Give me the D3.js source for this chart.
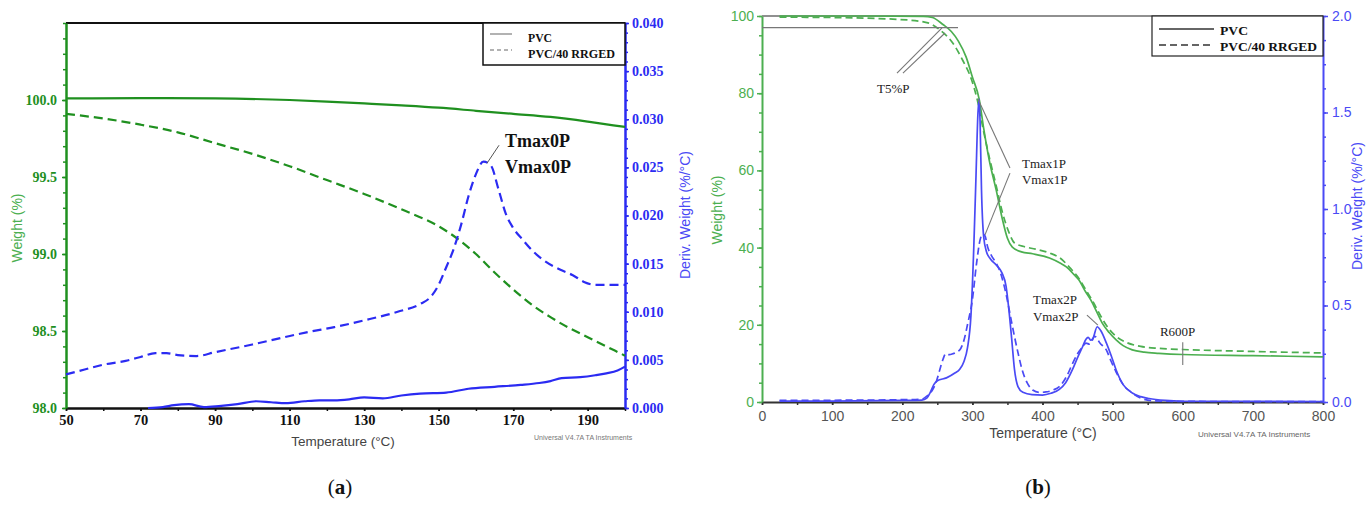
<!DOCTYPE html>
<html lang="en">
<head>
<meta charset="UTF-8">
<style>
  body { margin: 0; background: #fff; }
  text { font-family: "Liberation Sans", Arial, sans-serif; }
  .serif { font-family: "Liberation Serif", "Times New Roman", serif; }
</style>
<script src="https://d3js.org/d3.v7.min.js"></script>
</head>
<body>
<svg id="chart" width="1367" height="509"></svg>
<script>
// ---------- panel (a) : 50-200 °C detail ----------
const aXTicks = [50, 70, 90, 110, 130, 150, 170, 190];
const aWeightTicks = [98.0, 98.5, 99.0, 99.5, 100.0];
const aDerivTicks = [0, 0.005, 0.01, 0.015, 0.02, 0.025, 0.03, 0.035, 0.04];

// [temperature °C, weight %]
const aPvcWeight = [[50,100.01],[70,100.012],[90,100.01],[110,100.0],[120,99.99],[130,99.978],
  [140,99.965],[150,99.95],[160,99.93],[170,99.91],[180,99.89],[190,99.86],[200,99.825]];
const aRrgWeight = [[50,99.91],[60,99.88],[70,99.84],[80,99.79],[90,99.72],[100,99.65],[110,99.57],
  [120,99.48],[130,99.39],[140,99.29],[150,99.18],[155,99.1],[160,99.0],[165,98.88],[170,98.77],
  [175,98.67],[180,98.59],[185,98.52],[190,98.46],[195,98.4],[200,98.34]];
// [temperature °C, deriv weight %/°C]
const aPvcDeriv = [[72,0],[76,0.0001],[79,0.0003],[83,0.0004],[87,0.0001],[91,0.0002],[96,0.0004],
  [101,0.0007],[105,0.0006],[109,0.0005],[114,0.0007],[118,0.0008],[122,0.0008],[126,0.0009],
  [130,0.0011],[135,0.001],[140,0.0013],[145,0.0015],[152,0.0016],[158,0.002],[165,0.0022],
  [172,0.0024],[177,0.0026],[180,0.0028],[183,0.0031],[188,0.0032],[192,0.0034],[195,0.0036],
  [198,0.0039],[200,0.0043]];
const aRrgDeriv = [[50,0.0035],[55,0.004],[60,0.0045],[66,0.0049],[70,0.0053],[74,0.0057],[77,0.0057],
  [80,0.0055],[85,0.0054],[90,0.0058],[100,0.0066],[108,0.0073],[115,0.0079],[122,0.0084],[130,0.0091],
  [139,0.01],[145,0.0108],[148,0.0116],[150,0.0128],[152,0.0146],[154,0.0165],[156,0.019],
  [158,0.022],[160,0.0243],[162,0.0256],[164,0.0252],[166,0.0228],[168,0.0202],[170,0.0187],
  [172.5,0.0175],[175,0.0164],[178,0.0154],[183,0.0143],[186,0.0138],[189,0.0131],[192,0.0128],[200,0.0128]];

// ---------- panel (b) : full run 0-800 °C ----------
const bXTicks = [0, 100, 200, 300, 400, 500, 600, 700, 800];
const bWeightTicks = [0, 20, 40, 60, 80, 100];
const bDerivTicks = [0, 0.5, 1.0, 1.5, 2.0];

const bPvcWeight = [[25,100],[150,100],[230,99.9],[243,99.6],[258,97.8],[270,96],[280,93.5],[291,89.4],
  [300,84.2],[310,78.2],[316,71],[324,62.7],[334,54.9],[343,47.2],[350,42.4],[357,40.1],[370,38.9],
  [386,38.4],[410,37.3],[425,36],[434,35],[445,33],[452,31.6],[460,29],[469,26.4],[477,23.5],
  [485,20.5],[495,18],[505,16.1],[515,14.6],[528,13.5],[545,12.9],[566,12.6],[600,12.3],[700,12.0],[800,11.7]];
const bRrgWeight = [[25,99.7],[100,99.6],[196,99.1],[235,98.3],[253,96.5],[272,93],[286,88.6],[299,83.4],
  [307,78.3],[315,71],[324,63.5],[334,56],[343,49],[352,44],[360,41.2],[375,40.2],[390,39.6],
  [410,38.6],[425,37.3],[440,34.6],[452,32],[462,29],[472,26],[482,22.6],[492,19.6],[505,17],
  [520,15.4],[540,14.4],[566,13.9],[600,13.6],[700,13.1],[800,12.7]];
const bPvcDeriv = [[25,0.005],[100,0.005],[200,0.008],[228,0.01],[235,0.02],[240,0.05],[245,0.09],
  [250,0.11],[263,0.125],[275,0.15],[282,0.17],[288,0.21],[293,0.28],[298,0.45],[302,0.8],[305,1.15],
  [308,1.5],[309.5,1.57],[311,1.45],[313,1.1],[316,0.86],[320,0.78],[326,0.74],[334,0.71],[342,0.67],
  [348,0.6],[352,0.48],[356,0.33],[360,0.17],[365,0.08],[372,0.05],[385,0.038],[400,0.036],[412,0.045],
  [424,0.065],[433,0.1],[443,0.17],[450,0.23],[457,0.285],[462,0.325],[465,0.335],[469,0.32],[472,0.33],
  [478,0.39],[483,0.37],[491,0.306],[498,0.24],[505,0.166],[515,0.09],[528,0.047],[540,0.028],
  [552,0.018],[575,0.008],[600,0.004],[800,0.002]];
const bRrgDeriv = [[25,0.008],[100,0.009],[200,0.012],[228,0.015],[235,0.03],[243,0.062],[248,0.1],
  [253,0.16],[258,0.22],[262,0.25],[267,0.245],[272,0.25],[282,0.27],[288,0.32],[293,0.4],[300,0.53],
  [306,0.72],[311,0.84],[315,0.87],[318,0.86],[322,0.8],[327,0.76],[334,0.72],[340,0.67],[348,0.56],
  [354,0.45],[360,0.34],[366,0.24],[371,0.166],[378,0.1],[386,0.062],[395,0.05],[405,0.052],[415,0.062],
  [424,0.08],[434,0.13],[443,0.2],[450,0.25],[457,0.285],[462,0.305],[467,0.3],[471,0.32],[474,0.34],
  [478,0.33],[481,0.31],[491,0.27],[498,0.21],[505,0.155],[515,0.09],[528,0.047],[540,0.02],
  [560,0.006],[600,0.003],[800,0.002]];

const legendNames = ["PVC", "PVC/40 RRGED"];

const svg = d3.select("#chart");

function drawLine(g, data, x, y, color, width, dash) {
  g.append("path")
    .datum(data)
    .attr("fill", "none")
    .attr("stroke", color)
    .attr("stroke-width", width)
    .attr("stroke-dasharray", dash || null)
    .attr("d", d3.line().x(d => x(d[0])).y(d => y(d[1])).curve(d3.curveMonotoneX));
}

function styleAxis(sel, color, domainW, font, size, weight, textColor) {
  sel.select(".domain").attr("stroke", color).attr("stroke-width", domainW);
  sel.selectAll(".tick line").attr("stroke", color).attr("stroke-width", 1.5);
  sel.selectAll(".tick text")
    .attr("fill", textColor || color)
    .style("font-family", font)
    .style("font-size", size + "px")
    .style("font-weight", weight);
}

// ================= panel (a) =================
{
  const green = "#1f901f", blue = "#2b2bf2";
  const x = d3.scaleLinear().domain([50, 200]).range([66, 625]);
  const y = d3.scaleLinear().domain([98, 100.5]).range([408, 23]);
  const y2 = d3.scaleLinear().domain([0, 0.04]).range([408, 23]);
  const serif = '"Liberation Serif", serif';
  const g = svg.append("g");

  // top frame
  g.append("line").attr("x1", x(50)).attr("x2", x(200)).attr("y1", y(100.5)).attr("y2", y(100.5))
    .attr("stroke", "#111").attr("stroke-width", 2);

  // minor ticks
  g.append("g").attr("transform", `translate(${x(50)},0)`)
    .call(d3.axisLeft(y).tickValues(d3.range(98, 100.51, 0.1)).tickSize(3).tickFormat(""))
    .call(s => { s.select(".domain").remove(); s.selectAll("line").attr("stroke", green).attr("stroke-width", 1.5); });
  g.append("g").attr("transform", `translate(${x(200)},0)`)
    .call(d3.axisRight(y2).tickValues(d3.range(0, 0.0401, 0.001)).tickSize(3).tickFormat(""))
    .call(s => { s.select(".domain").remove(); s.selectAll("line").attr("stroke", blue).attr("stroke-width", 1.5); });
  g.append("g").attr("transform", `translate(0,${y(98)})`)
    .call(d3.axisBottom(x).tickValues(d3.range(50, 201, 10)).tickSize(3).tickFormat(""))
    .call(s => { s.select(".domain").remove(); s.selectAll("line").attr("stroke", "#111").attr("stroke-width", 1.5); });

  // main axes
  g.append("g").attr("transform", `translate(0,${y(98)})`)
    .call(d3.axisBottom(x).tickValues(aXTicks).tickSize(3).tickPadding(4).tickSizeOuter(0))
    .call(s => styleAxis(s, "#111", 2.5, serif, 14.5, "bold"));
  g.append("g").attr("transform", `translate(${x(50)},0)`)
    .call(d3.axisLeft(y).tickValues(aWeightTicks).tickSize(4).tickPadding(5).tickSizeOuter(0).tickFormat(d3.format(".1f")))
    .call(s => styleAxis(s, green, 2.5, serif, 14, "bold"));
  g.append("g").attr("transform", `translate(${x(200)},0)`)
    .call(d3.axisRight(y2).tickValues(aDerivTicks).tickSize(4).tickPadding(3).tickSizeOuter(0).tickFormat(d3.format(".3f")))
    .call(s => styleAxis(s, blue, 2.5, serif, 14, "bold"));

  // curves
  drawLine(g, aPvcWeight, x, y, green, 2.2);
  drawLine(g, aRrgWeight, x, y, green, 2.2, "9,5");
  drawLine(g, aPvcDeriv, x, y2, blue, 2.2);
  drawLine(g, aRrgDeriv, x, y2, blue, 2.2, "9,5");

  // axis titles
  g.append("text").attr("transform", `translate(22,228) rotate(-90)`).attr("text-anchor", "middle")
    .attr("fill", "#4caf50").style("font-size", "14px").text("Weight (%)");
  g.append("text").attr("transform", `translate(690,215) rotate(-90)`).attr("text-anchor", "middle")
    .attr("fill", "#4a4af5").style("font-size", "14px").text("Deriv. Weight (%/°C)");
  g.append("text").attr("x", 343).attr("y", 446).attr("text-anchor", "middle")
    .attr("fill", "#444").style("font-size", "13.5px").text("Temperature (°C)");
  g.append("text").attr("x", 534).attr("y", 440).attr("fill", "#777").style("font-size", "7px")
    .text("Universal V4.7A TA Instruments");

  // legend
  g.append("rect").attr("x", 483).attr("y", 23).attr("width", 142).attr("height", 42)
    .attr("fill", "#fff").attr("stroke", "#111").attr("stroke-width", 1.5);
  [[34, null], [50, "4,3"]].forEach(([ly, dash], i) => {
    g.append("line").attr("x1", 490).attr("x2", 512).attr("y1", ly).attr("y2", ly)
      .attr("stroke", "#999").attr("stroke-width", 1.5).attr("stroke-dasharray", dash);
    g.append("text").attr("class", "serif").attr("x", 528).attr("y", ly + 7.5)
      .style("font-size", "13px").style("font-weight", "bold").attr("fill", "#111")
      .attr("textLength", i ? 87 : 24).attr("lengthAdjust", "spacingAndGlyphs").text(legendNames[i]);
  });

  // annotation
  g.append("line").attr("x1", x(163)).attr("y1", y2(0.02545)).attr("x2", x(166.2)).attr("y2", y2(0.0273))
    .attr("stroke", "#555").attr("stroke-width", 1);
  ["Tmax0P", "Vmax0P"].forEach((t, i) => {
    g.append("text").attr("class", "serif").attr("x", x(167.8)).attr("y", y2(i ? 0.0244 : 0.0271))
      .style("font-size", "18px").style("font-weight", "bold").attr("fill", "#111").text(t);
  });

  g.append("text").attr("class", "serif").attr("x", 340).attr("y", 494).attr("text-anchor", "middle")
    .style("font-size", "21px").attr("fill", "#111")
    .html('(<tspan font-weight="bold">a</tspan>)');
}

// ================= panel (b) =================
{
  const green = "#4caf50", blue = "#4a4af5";
  const x = d3.scaleLinear().domain([0, 800]).range([762, 1323]);
  const y = d3.scaleLinear().domain([0, 100]).range([402, 16]);
  const y2 = d3.scaleLinear().domain([0, 2]).range([402, 16]);
  const sans = '"Liberation Sans", Arial, sans-serif';
  const g = svg.append("g");

  g.append("line").attr("x1", x(0)).attr("x2", x(800)).attr("y1", y(100)).attr("y2", y(100))
    .attr("stroke", "#222").attr("stroke-width", 1.2);

  // minor ticks
  g.append("g").attr("transform", `translate(${x(0)},0)`)
    .call(d3.axisLeft(y).tickValues(d3.range(0, 101, 5)).tickSize(3).tickFormat(""))
    .call(s => { s.select(".domain").remove(); s.selectAll("line").attr("stroke", green).attr("stroke-width", 1.5); });
  g.append("g").attr("transform", `translate(${x(800)},0)`)
    .call(d3.axisRight(y2).tickValues(d3.range(0, 2.01, 0.125)).tickSize(3).tickFormat(""))
    .call(s => { s.select(".domain").remove(); s.selectAll("line").attr("stroke", blue).attr("stroke-width", 1.5); });
  g.append("g").attr("transform", `translate(0,${y(0)})`)
    .call(d3.axisBottom(x).tickValues(d3.range(0, 801, 50)).tickSize(3).tickFormat(""))
    .call(s => { s.select(".domain").remove(); s.selectAll("line").attr("stroke", "#333").attr("stroke-width", 1.5); });

  g.append("g").attr("transform", `translate(0,${y(0)})`)
    .call(d3.axisBottom(x).tickValues(bXTicks).tickSize(3).tickPadding(6).tickSizeOuter(0))
    .call(s => styleAxis(s, "#333", 1.8, sans, 14, "normal", "#555"));
  g.append("g").attr("transform", `translate(${x(0)},0)`)
    .call(d3.axisLeft(y).tickValues(bWeightTicks).tickSize(5).tickPadding(3).tickSizeOuter(0))
    .call(s => styleAxis(s, green, 2, sans, 14, "normal"));
  g.append("g").attr("transform", `translate(${x(800)},0)`)
    .call(d3.axisRight(y2).tickValues(bDerivTicks).tickSize(5).tickPadding(4).tickSizeOuter(0).tickFormat(d3.format(".1f")))
    .call(s => styleAxis(s, blue, 2, sans, 14, "normal"));

  drawLine(g, bPvcWeight, x, y, green, 1.7);
  drawLine(g, bRrgWeight, x, y, green, 1.7, "7,4");
  drawLine(g, bPvcDeriv, x, y2, blue, 1.7);
  drawLine(g, bRrgDeriv, x, y2, blue, 1.7, "7,4");

  // axis titles
  g.append("text").attr("transform", `translate(722,210) rotate(-90)`).attr("text-anchor", "middle")
    .attr("fill", green).style("font-size", "14px").text("Weight (%)");
  g.append("text").attr("transform", `translate(1362,206) rotate(-90)`).attr("text-anchor", "middle")
    .attr("fill", blue).style("font-size", "14px").text("Deriv. Weight (%/°C)");
  g.append("text").attr("x", 1043).attr("y", 438).attr("text-anchor", "middle")
    .attr("fill", "#444").style("font-size", "14px").text("Temperature (°C)");
  g.append("text").attr("x", 1198).attr("y", 437).attr("fill", "#666").style("font-size", "8px")
    .text("Universal V4.7A TA Instruments");

  // legend
  g.append("rect").attr("x", 1152).attr("y", 16).attr("width", 171).attr("height", 40)
    .attr("fill", "#fff").attr("stroke", "#222").attr("stroke-width", 1.2);
  [[29, null], [45, "7,4"]].forEach(([ly, dash], i) => {
    g.append("line").attr("x1", 1159).attr("x2", 1214).attr("y1", ly).attr("y2", ly)
      .attr("stroke", "#333").attr("stroke-width", 1.3).attr("stroke-dasharray", dash);
    g.append("text").attr("class", "serif").attr("x", 1220).attr("y", ly + 5.5)
      .style("font-size", "13.5px").style("font-weight", "bold").attr("fill", "#111")
      .attr("textLength", i ? 97 : 28).attr("lengthAdjust", "spacingAndGlyphs").text(legendNames[i]);
  });

  // annotations (data units)
  const ann = "#777";
  const seg = (t1, v1, t2, v2, yy) => g.append("line")
    .attr("x1", x(t1)).attr("y1", yy(v1)).attr("x2", x(t2)).attr("y2", yy(v2))
    .attr("stroke", ann).attr("stroke-width", 1.1);
  seg(0, 97, 279.5, 97, y);
  seg(192.5, 85.2, 256.7, 96.9, y);
  seg(201, 85.2, 261, 95.6, y);
  seg(308, 78.5, 353.6, 60.6, y);
  seg(353.6, 59.3, 318, 43.3, y);
  seg(463.4, 22.5, 479, 19.9, y);
  seg(600, 15.5, 600, 9.6, y);

  const label = (t, v, txt) => g.append("text").attr("class", "serif").attr("x", x(t)).attr("y", y(v))
    .style("font-size", "13px").attr("fill", "#222").text(txt);
  label(164, 80, "T5%P");
  label(370.7, 60.6, "Tmax1P");
  label(370.7, 56.5, "Vmax1P");
  label(386.4, 25.4, "Tmax2P");
  label(386.4, 21.0, "Vmax2P");
  label(567.5, 17.1, "R600P");

  g.append("text").attr("class", "serif").attr("x", 1038).attr("y", 494).attr("text-anchor", "middle")
    .style("font-size", "21px").attr("fill", "#111")
    .html('(<tspan font-weight="bold">b</tspan>)');
}
</script>
</body>
</html>
